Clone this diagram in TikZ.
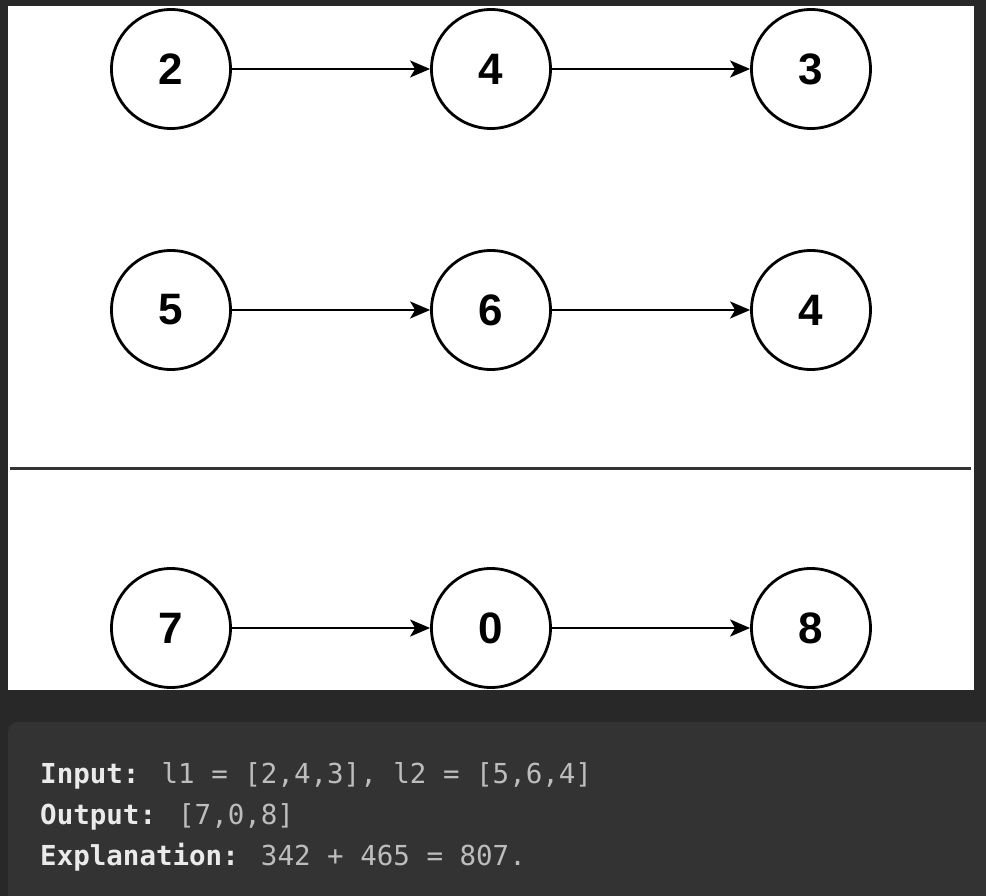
\documentclass[tikz,border=0pt]{standalone}
\usepackage{fontspec}
\setmainfont{Liberation Sans}
\newfontfamily\codefont{DejaVu Sans Mono}
\usetikzlibrary{arrows.meta}
\definecolor{bgdark}{HTML}{282828}
\definecolor{codebg}{HTML}{333333}
\definecolor{codelabel}{HTML}{EAEAEA}
\definecolor{codeval}{HTML}{BDBDBD}
\definecolor{divider}{HTML}{333333}
\tikzset{
  listnode/.style={circle, draw=black, line width=2.8pt, fill=white, minimum size=119pt, inner sep=0pt,
    font=\fontsize{44}{44}\selectfont\bfseries},
  link/.style={line width=2pt, -{Stealth[length=20pt, width=17pt, inset=5pt]}},
  codeline/.style={anchor=base west, inner sep=0pt, font=\codefont\fontsize{27.5}{27.5}\selectfont, text=codeval}
}
\begin{document}
\begin{tikzpicture}[x=1pt, y=-1pt]
\useasboundingbox (0,0) rectangle (986,896);
\fill[bgdark] (0,0) rectangle (986,896);
\fill[white] (8,6) rectangle (974,690);
\fill[codebg, rounded corners=10pt] (8,722) -- (986,722) -- (986,906) -- (8,906) -- cycle;
\fill[codebg] (900,722) rectangle (986,896);
\begin{scope}
\clip (8,6) rectangle (974,690);
\node[listnode] (a1) at (171,69) {2};
\node[listnode] (a2) at (491,69) {4};
\node[listnode] (a3) at (811,69) {3};
\node[listnode] (b1) at (171,310) {5};
\node[listnode] (b2) at (491,310) {6};
\node[listnode] (b3) at (811,310) {4};
\node[listnode] (c1) at (171,628) {7};
\node[listnode] (c2) at (491,628) {0};
\node[listnode] (c3) at (811,628) {8};
\draw[link] (a1) -- (a2);
\draw[link] (a2) -- (a3);
\draw[link] (b1) -- (b2);
\draw[link] (b2) -- (b3);
\draw[link] (c1) -- (c2);
\draw[link] (c2) -- (c3);
\coordinate (dl) at (10,468);
\coordinate (dr) at (971,468);
\draw[divider, line width=3pt] (dl) -- (dr);
\end{scope}
\node[codeline] (t1) at (40,783) {\textcolor{codelabel}{\bfseries Input:} l1 = [2,4,3], l2 = [5,6,4]};
\node[codeline] (t2) at (40,824) {\textcolor{codelabel}{\bfseries Output:} [7,0,8]};
\node[codeline] (t3) at (40,865) {\textcolor{codelabel}{\bfseries Explanation:} 342 + 465 = 807.};
\end{tikzpicture}
\end{document}
